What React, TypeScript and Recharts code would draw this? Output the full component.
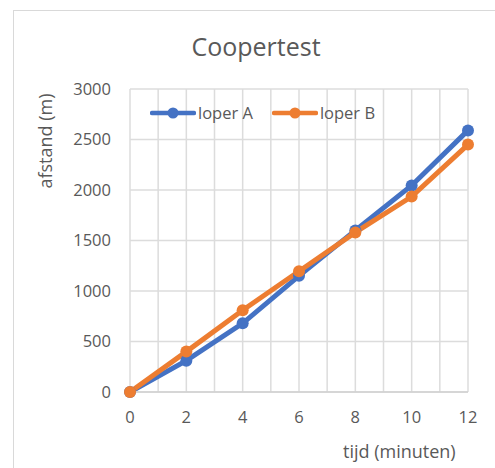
import React from 'react';
import { LineChart, Line, XAxis, YAxis, CartesianGrid } from 'recharts';

const minutes = [0, 2, 4, 6, 8, 10, 12];
const loperA = [0, 310, 680, 1150, 1600, 2045, 2590];
const loperB = [0, 400, 810, 1195, 1580, 1935, 2450];
const xGridTicks = [0, 1, 2, 3, 4, 5, 6, 7, 8, 9, 10, 11, 12];
const yTicks = [0, 500, 1000, 1500, 2000, 2500, 3000];
const seriesNames = ['loper A', 'loper B'];

const data = minutes.map((m, i) => ({ t: m, a: loperA[i], b: loperB[i] }));

const FONT = '"Open Sans", "Noto Sans", sans-serif';
const GRAY = '#595959';
const BLUE = '#4472C4';
const ORANGE = '#ED7D31';
const colors = [BLUE, ORANGE];

export default function App() {
  return (
    <div style={{ position: 'absolute', left: 0, top: 0, width: 495, height: 468, background: '#fff', overflow: 'hidden' }}>
      <div style={{ position: 'absolute', left: 13, top: 10, width: 500, height: 470, borderLeft: '1px solid #d9d9d9', borderTop: '1px solid #d9d9d9' }} />
      <div style={{ position: 'absolute', left: 0, top: 0 }}>
        <LineChart width={495} height={468} data={data} margin={{ top: 89, right: 27, bottom: 0, left: 0 }}>
          <CartesianGrid stroke="#dcdcdc" strokeWidth={1.5} />
          <XAxis
            dataKey="t"
            type="number"
            domain={[0, 12]}
            ticks={xGridTicks}
            tickFormatter={(v: number) => (minutes.includes(v) ? String(v) : '')}
            axisLine={{ stroke: '#d0d0d0', strokeWidth: 1.5 }}
            tickLine={false}
            tickSize={0}
            tickMargin={19}
            height={76}
            tick={{ fill: GRAY, fontSize: 16.5, fontFamily: FONT }}
          />
          <YAxis
            type="number"
            domain={[0, 3000]}
            ticks={yTicks}
            width={130}
            axisLine={false}
            tickLine={false}
            tickSize={0}
            tickMargin={19}
            tick={{ fill: GRAY, fontSize: 16.5, fontFamily: FONT }}
          />
          <Line name={seriesNames[0]} dataKey="a" stroke={BLUE} strokeWidth={5} dot={{ r: 6, fill: BLUE, stroke: BLUE, strokeWidth: 0 }} isAnimationActive={false} />
          <Line name={seriesNames[1]} dataKey="b" stroke={ORANGE} strokeWidth={5} dot={{ r: 6, fill: ORANGE, stroke: ORANGE, strokeWidth: 0 }} isAnimationActive={false} />
        </LineChart>
      </div>
      <div style={{ position: 'absolute', left: 0, width: 512, top: 29, textAlign: 'center', fontFamily: FONT, fontSize: 25, color: GRAY }}>
        Coopertest
      </div>
      <div style={{ position: 'absolute', left: 45, top: 141, transform: 'translate(-50%, -50%) rotate(-90deg)', whiteSpace: 'nowrap', fontFamily: FONT, fontSize: 18, color: GRAY }}>
        afstand (m)
      </div>
      <div style={{ position: 'absolute', left: 343, top: 439, whiteSpace: 'nowrap', fontFamily: FONT, fontSize: 18, color: GRAY }}>
        tijd (minuten)
      </div>
      <div style={{ position: 'absolute', left: 150, top: 101, display: 'flex', alignItems: 'center', fontFamily: FONT, fontSize: 16.5, color: GRAY }}>
        {seriesNames.map((n, i) => (
          <div key={n} style={{ display: 'flex', alignItems: 'center', marginRight: 19 }}>
            <svg width={46} height={14}>
              <line x1={2} y1={7} x2={44} y2={7} stroke={colors[i]} strokeWidth={4.5} strokeLinecap="round" />
              <circle cx={23} cy={7} r={5.5} fill={colors[i]} />
            </svg>
            <span style={{ marginLeft: 2 }}>{n}</span>
          </div>
        ))}
      </div>
    </div>
  );
}
